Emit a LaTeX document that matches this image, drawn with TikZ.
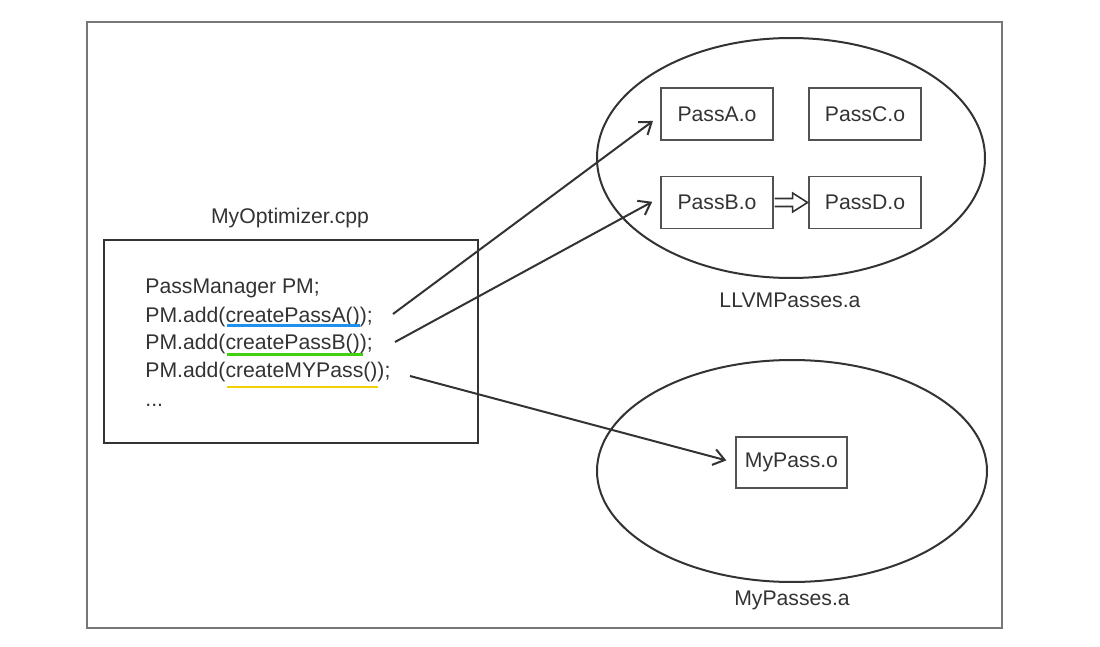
\documentclass[tikz,border=0pt]{standalone}
\usepackage{fontspec}
\setmainfont{Liberation Sans}
\usetikzlibrary{arrows.meta,shapes.geometric}
\definecolor{ink}{HTML}{333333}
\definecolor{frame}{HTML}{777777}
\definecolor{ulblue}{HTML}{1E90F0}
\definecolor{ulgreen}{HTML}{40D010}
\definecolor{ulyellow}{HTML}{F5D000}
\tikzset{
  txt/.style={text=ink, font=\fontsize{10.6}{13}\selectfont, inner sep=0pt},
  objbox/.style={draw=ink!85, line width=0.55pt, minimum width=56pt, minimum height=26pt, inner sep=0pt, text=ink, font=\fontsize{10.6}{13}\selectfont},
  lib/.style={draw=ink, line width=1pt},
  conn/.style={draw=ink, line width=1pt, -{Straight Barb[length=5.5pt,width=8pt,line width=1pt]}, shorten >=5pt},
  ul/.style={line width=1.2pt},
  hollow/.style={draw=ink, line width=0.8pt, line join=miter}
}
\begin{document}
\begin{tikzpicture}[x=0.5pt,y=-0.5pt]
\useasboundingbox (0,0) rectangle (1100,647);
% outer frame
\draw[frame, line width=0.8pt] (87,22) rectangle (1002,628);
% code box
\draw[ink, line width=1.1pt] (104,240) rectangle (478,443);
\node[txt] (title) at (290,218) {MyOptimizer.cpp};
\node[txt, anchor=base west] (l1) at (145,294) {PassManager PM;};
\node[txt, anchor=base west] (l2) at (145,322) {PM.add(createPassA());};
\node[txt, anchor=base west] (l3) at (145,350) {PM.add(createPassB());};
\node[txt, anchor=base west] (l4) at (145,378) {PM.add(createMYPass());};
\node[txt, anchor=base west] (l5) at (145,407) {...};
% underlines
\draw[ul, ulblue] (227,325.5) -- (360,325.5);
\draw[ul, ulgreen] (227,354.5) -- (363,354.5);
\draw[ul, ulyellow] (227,387) -- (378,387);
% libraries
\draw[lib] (791,158) ellipse [x radius=194, y radius=120];
\draw[lib] (792,471) ellipse [x radius=195, y radius=111];
\node[txt] (llvm) at (790,300) {LLVMPasses.a};
\node[txt] (mylib) at (792,600) {MyPasses.a};
% object files
\node[objbox] (pa) at (717,114) {PassA.o};
\node[objbox] (pc) at (865,114) {PassC.o};
\node[objbox] (pb) at (717,202.5) {PassB.o};
\node[objbox] (pd) at (865,202.5) {PassD.o};
\node[objbox, minimum width=55.5pt, minimum height=25.5pt] (mp) at (791.5,462.5) {MyPass.o};
% dependency arrow (hollow, from PassB.o to PassD.o)
\begin{scope}[shift={(pb.east)}]
\draw[hollow] (1,-4) -- (19,-4) -- (19,-9.5) -- (34,0) -- (19,9.5) -- (19,4) -- (1,4);
\end{scope}
% connectors
\coordinate (sA) at (393,314);
\coordinate (sB) at (395,342);
\coordinate (sC) at (410,376);
\coordinate (tA) at (661,115);
\coordinate (tB) at (661,197);
\coordinate (tC) at (736,463);
\draw[conn] (sA) -- (tA);
\draw[conn] (sB) -- (tB);
\draw[conn] (sC) -- (tC);
\end{tikzpicture}
\end{document}
